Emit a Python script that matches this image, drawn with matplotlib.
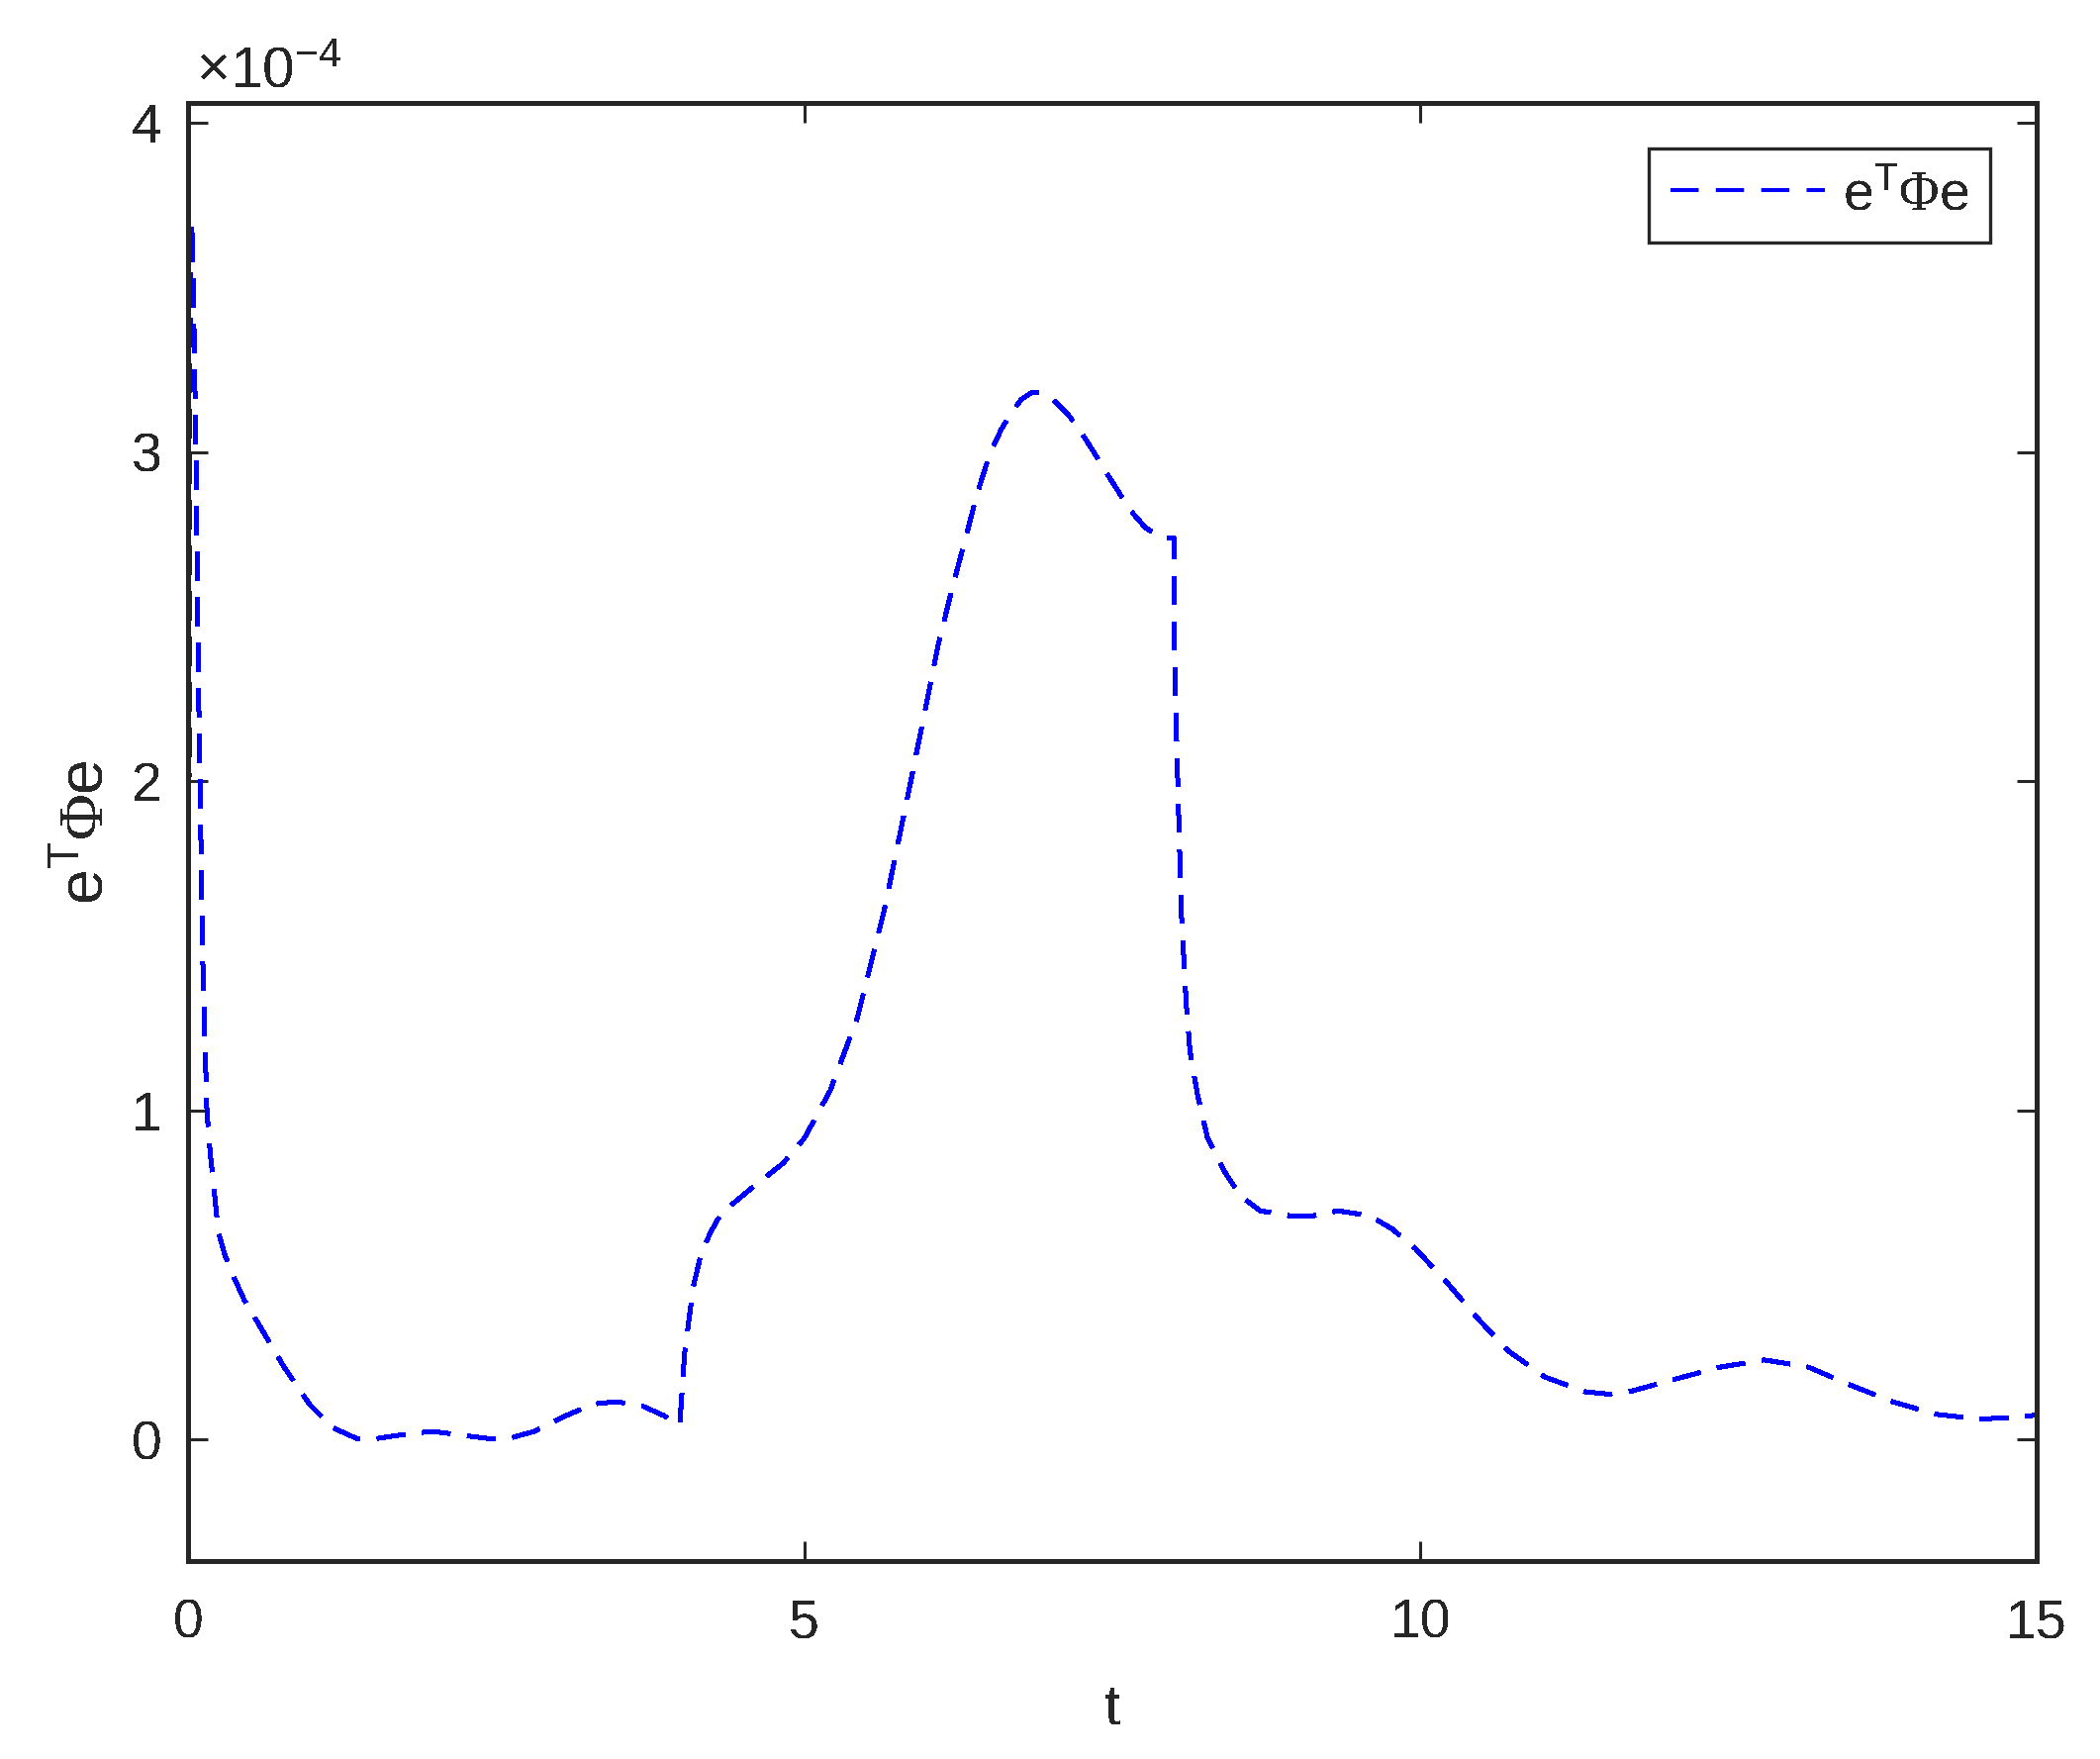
import matplotlib
matplotlib.use("Agg")
import matplotlib.pyplot as plt

plt.rcParams['font.family'] = ['Liberation Sans', 'DejaVu Sans']
plt.rcParams['mathtext.fontset'] = 'custom'
plt.rcParams['mathtext.rm'] = 'Liberation Sans'
plt.rcParams['mathtext.it'] = 'Liberation Sans:italic'
plt.rcParams['mathtext.cal'] = 'Liberation Serif'
plt.rcParams['lines.scale_dashes'] = False
plt.rcParams['text.antialiased'] = False

# time (s)
t = [0, 0.004, 0.008, 0.012, 0.018, 0.026, 0.034, 0.045, 0.064, 0.086, 0.097, 0.12,
     0.153, 0.18, 0.21, 0.246, 0.30, 0.376, 0.455, 0.59, 0.78, 0.99, 1.18, 1.37, 1.53,
     1.74, 1.98, 2.25, 2.46, 2.62, 2.81, 3.05, 3.29, 3.48, 3.70, 3.86, 3.99, 4.03, 4.10,
     4.16, 4.24, 4.30, 4.40, 4.56, 4.83, 5.0, 5.21, 5.43, 5.65, 5.87, 6.09, 6.21, 6.31,
     6.40, 6.51, 6.60, 6.68, 6.76, 6.84, 6.92, 6.99, 7.07, 7.15, 7.23, 7.35, 7.43, 7.55,
     7.63, 7.77, 7.90, 8.00, 8.004, 8.01, 8.02, 8.03, 8.04, 8.05, 8.06, 8.08, 8.10, 8.13,
     8.19, 8.27, 8.40, 8.54, 8.70, 8.94, 9.13, 9.33, 9.59, 9.77, 9.96, 10.22, 10.46,
     10.71, 11.01, 11.34, 11.53, 11.72, 12.08, 12.43, 12.79, 13.15, 13.48, 13.83, 14.18,
     14.54, 14.90, 15.0]

# e^T Phi e, in units of 1e-4
eTPhie = [0, 1.0, 2.0, 2.9, 3.5, 3.7, 3.66, 3.45, 3.0, 2.27, 2.0, 1.45,
          1.0, 0.87, 0.766, 0.63, 0.56, 0.49, 0.425, 0.34, 0.22, 0.105, 0.035, 0.003, 0.003,
          0.015, 0.025, 0.012, 0.002, 0.005, 0.025, 0.07, 0.108, 0.115, 0.10, 0.073, 0.045,
          0.265, 0.465, 0.56, 0.63, 0.67, 0.71, 0.76, 0.84, 0.915, 1.06, 1.28, 1.61, 2.01,
          2.42, 2.60, 2.74, 2.87, 3.0, 3.07, 3.12, 3.16, 3.18, 3.18, 3.17, 3.14, 3.11, 3.07,
          3.0, 2.95, 2.88, 2.83, 2.77, 2.74, 2.74, 2.42, 2.29, 2.15, 2.01, 1.87, 1.73, 1.60,
          1.46, 1.32, 1.18, 1.05, 0.92, 0.82, 0.74, 0.695, 0.68, 0.68, 0.695, 0.68, 0.64,
          0.58, 0.475, 0.37, 0.27, 0.19, 0.145, 0.138, 0.148, 0.185, 0.22, 0.242, 0.22,
          0.167, 0.115, 0.077, 0.062, 0.07, 0.075]

xticks = [0, 5, 10, 15]
yticks = [0, 1, 2, 3, 4]
label = r'$\mathrm{e}^{\mathrm{T}}\mathcal{\Phi}\mathrm{e}$'

AX = '#262626'
fig = plt.figure(figsize=(21.22, 17.77), dpi=100)
ax = fig.add_axes([190/2122, 200/1777, 1868/2122, 1473/1777])

ax.plot(t, eTPhie, color=(0, 0, 1), lw=2.9, dashes=(20.5, 12.5), label=label,
        antialiased=False)

ax.set_xlim(0, 15)
ax.set_ylim(-0.369, 4.061)
ax.set_xticks(xticks)
ax.set_yticks(yticks)
ax.set_xticklabels([str(v) for v in xticks])
ax.set_yticklabels([str(v) for v in yticks])

for s in ax.spines.values():
    s.set_color(AX)
    s.set_linewidth(2.4)
    s.set_antialiased(False)
ax.tick_params(direction='in', length=14.4, width=2.2, colors=AX, labelsize=40,
               top=True, right=True)
ax.tick_params(axis='x', pad=27)
ax.tick_params(axis='y', pad=19)

ax.set_xlabel('t', fontsize=42, color=AX)
ax.xaxis.set_label_coords(0.5, -0.083)
ax.set_ylabel(label, fontsize=46, color=AX)
ax.yaxis.set_label_coords(-0.039, 0.5)

ax.text(0.0043, 1.011, r'$\times\mathrm{10}^{-4}$', transform=ax.transAxes,
        fontsize=42, color=AX, ha='left', va='baseline')

leg = ax.legend(loc='upper right', bbox_to_anchor=(0.9749, 0.9688), borderaxespad=0,
                fontsize=40, handlelength=2.8, handletextpad=0.33, borderpad=0.39,
                fancybox=False, framealpha=1, edgecolor=AX)
leg.get_frame().set_linewidth(2.4)
for txt in leg.get_texts():
    txt.set_color(AX)

fig.savefig('out.png', dpi=100)
